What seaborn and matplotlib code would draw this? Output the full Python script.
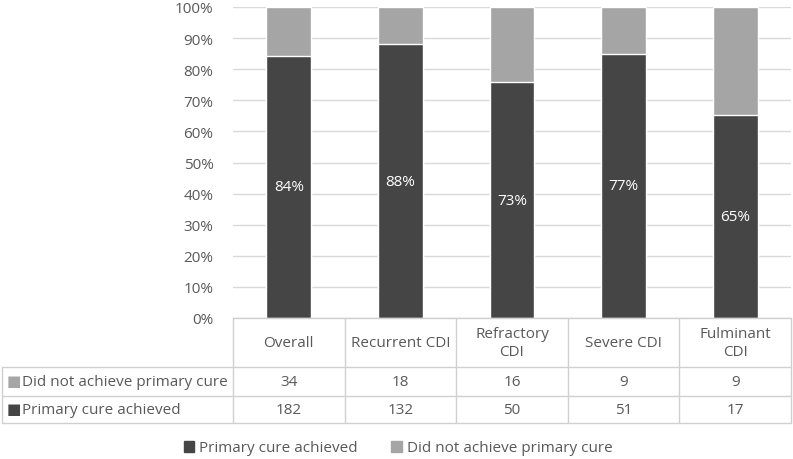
import numpy as np
import pandas as pd
import seaborn as sns
import matplotlib.pyplot as plt
from matplotlib.patches import Patch
from matplotlib.transforms import blended_transform_factory

categories = ['Overall', 'Recurrent CDI', 'Refractory CDI', 'Severe CDI', 'Fulminant CDI']
header_labels = ['Overall', 'Recurrent CDI', 'Refractory\nCDI', 'Severe CDI', 'Fulminant\nCDI']
cured = [182, 132, 50, 51, 17]
not_cured = [34, 18, 16, 9, 9]
bar_labels = ['84%', '88%', '73%', '77%', '65%']

dark = '#454545'
light = '#a5a5a5'
txt = '#595959'
line = '#d0d0d0'
fs = 11

df = pd.DataFrame({'category': categories, 'cured': cured, 'not_cured': not_cured})
df['pct_cured'] = df['cured'] / (df['cured'] + df['not_cured']) * 100
df['total'] = 100

sns.set_style('white')
plt.rcParams['font.family'] = ['Open Sans', 'DejaVu Sans']

W, H = 793, 460
fig = plt.figure(figsize=(W / 100, H / 100), dpi=100)
left, right, top, bottom = 233, 791, 8, 319
ax = fig.add_axes([left / W, 1 - bottom / H, (right - left) / W, (bottom - top) / H])

sns.barplot(data=df, x='category', y='total', color=light, width=0.4, ax=ax, saturation=1, zorder=2)
sns.barplot(data=df, x='category', y='pct_cured', color=dark, width=0.4, ax=ax, saturation=1, zorder=3)

for i, (p, lab) in enumerate(zip(df['pct_cured'], bar_labels)):
    ax.text(i, p / 2, lab, color='white', ha='center', va='center', fontsize=fs, zorder=4)

ax.set_xlim(-0.5, 4.5)
ax.set_ylim(0, 100)
ax.set_yticks(np.arange(0, 101, 10))
ax.set_yticklabels([f'{v}%' for v in range(0, 101, 10)], color=txt, fontsize=fs)
ax.tick_params(axis='y', length=0, pad=14)
ax.set_xticks([])
ax.set_xlabel('')
ax.set_ylabel('')
ax.grid(axis='y', color='#d9d9d9', linewidth=1, zorder=0)
ax.set_axisbelow(True)
for s in ax.spines.values():
    s.set_visible(False)

# data table under the axis
tr = blended_transform_factory(ax.transData, fig.transFigure)
fy = lambda py: 1 - py / H
fx = lambda px: px / W
y_head, y_r1, y_r2, y_end = 319, 368, 397, 424

def to_data_x(px):
    return ax.transData.inverted().transform(fig.transFigure.transform((fx(px), 0)))[0]

def hline(py, px0):
    fig.add_artist(plt.Line2D([to_data_x(px0), 4.5], [fy(py), fy(py)], transform=tr, color=line, lw=1))

hline(y_head, left)
for py in [y_r1, y_r2, y_end]:
    hline(py, 2)

for xb in np.arange(-0.5, 4.6, 1):
    fig.add_artist(plt.Line2D([xb, xb], [fy(y_head), fy(y_end)], transform=tr, color=line, lw=1))
fig.add_artist(plt.Line2D([fx(2), fx(2)], [fy(y_r1), fy(y_end)], transform=fig.transFigure, color=line, lw=1))

for i, h in enumerate(header_labels):
    fig.text(i, fy((y_head + y_r1) / 2), h, transform=tr, ha='center', va='center',
             color=txt, fontsize=fs, linespacing=1.3)
for i, (n, c) in enumerate(zip(not_cured, cured)):
    fig.text(i, fy((y_r1 + y_r2) / 2), str(n), transform=tr, ha='center', va='center', color=txt, fontsize=fs)
    fig.text(i, fy((y_r2 + y_end) / 2), str(c), transform=tr, ha='center', va='center', color=txt, fontsize=fs)

for py0, py1, col, lab in [(y_r1, y_r2, light, 'Did not achieve primary cure'),
                           (y_r2, y_end, dark, 'Primary cure achieved')]:
    yc = (py0 + py1) / 2
    fig.text(fx(7), fy(yc), '\u25a0', color=col, ha='left', va='center', fontsize=fs)
    fig.text(fx(22), fy(yc), lab, color=txt, ha='left', va='center', fontsize=fs)

handles = [Patch(color=dark, label='Primary cure achieved'),
           Patch(color=light, label='Did not achieve primary cure')]
leg = fig.legend(handles=handles, loc='center', bbox_to_anchor=(fx(398), fy(449)), ncol=2,
                 frameon=False, fontsize=fs, handlelength=0.7, handleheight=0.7,
                 handletextpad=0.3, columnspacing=2.2)
for t in leg.get_texts():
    t.set_color(txt)

fig.savefig('out.png', dpi=100)
